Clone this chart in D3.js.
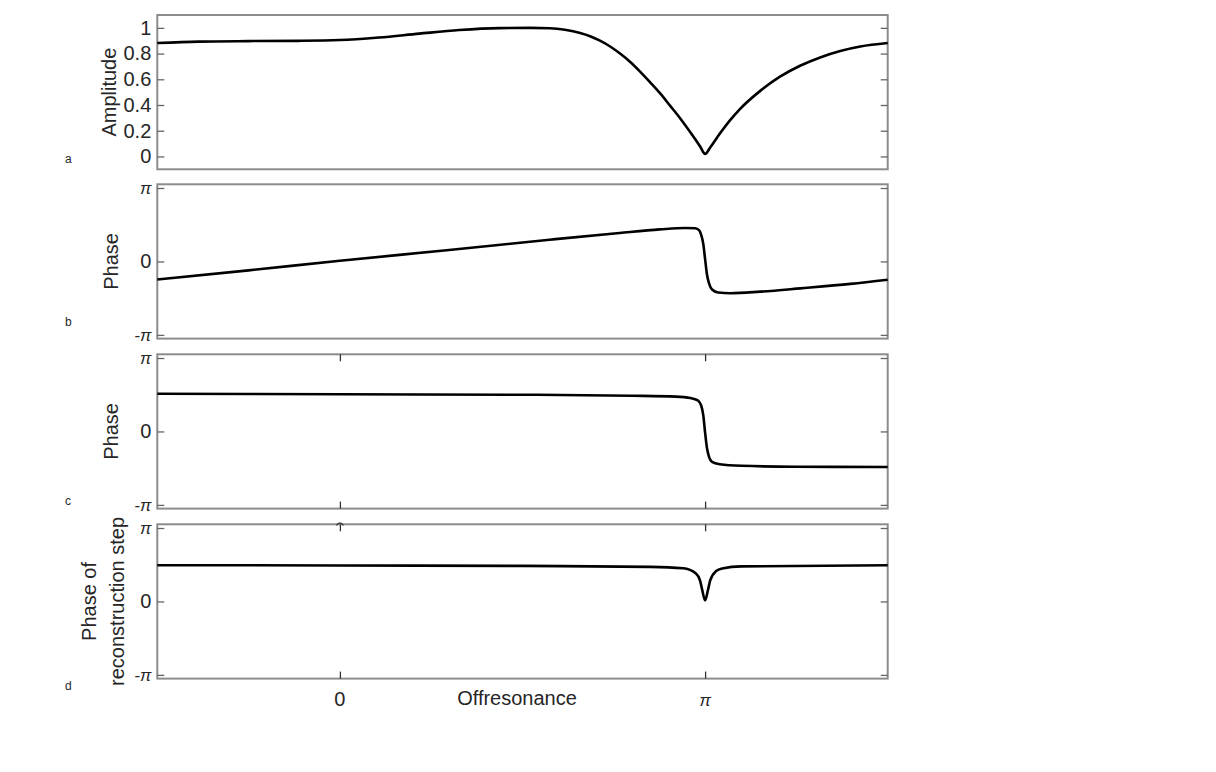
<!DOCTYPE html>
<html><head><meta charset="utf-8">
<script src="https://cdn.jsdelivr.net/npm/d3@7"></script>
<style>body{margin:0;background:#fff} text{font-family:"Liberation Sans",Arial,sans-serif;fill:#262626}</style>
</head><body><svg id="c" width="1216" height="772"></svg>
<script>
// Offresonance positions are given in multiples of pi
const offresA = [-0.5,-0.387,-0.25,-0.113,0,0.107,0.217,0.327,0.437,0.521,0.575,0.616,0.658,0.685,0.712,0.740,0.767,0.795,0.822,0.849,0.877,0.904,0.932,0.959,0.986,1.0,1.014,1.041,1.068,1.096,1.151,1.205,1.260,1.315,1.370,1.425,1.5];
const amplitude = [0.882,0.893,0.897,0.899,0.905,0.925,0.955,0.983,0.998,1.0,0.997,0.985,0.96,0.935,0.9,0.855,0.80,0.735,0.66,0.578,0.49,0.395,0.295,0.19,0.08,0.02,0.07,0.18,0.28,0.37,0.51,0.62,0.705,0.77,0.82,0.855,0.882];

const offresB = [-0.5,-0.25,0,0.299,0.574,0.766,0.876,0.945,0.973,0.984,0.989,0.995,1.0,1.005,1.011,1.019,1.036,1.069,1.151,1.261,1.398,1.5];
const phaseB = [-0.775,-0.38,0.03,0.49,0.93,1.22,1.37,1.43,1.42,1.33,1.15,0.75,0.1,-0.55,-0.95,-1.2,-1.33,-1.36,-1.29,-1.15,-0.96,-0.78];

const offresC = [-0.5,0,0.5,0.8,0.92,0.96,0.98,0.989,0.995,1.0,1.005,1.011,1.019,1.04,1.1,1.25,1.5];
const phaseC = [1.61,1.59,1.57,1.53,1.49,1.43,1.33,1.12,0.7,-0.05,-0.7,-1.1,-1.3,-1.4,-1.47,-1.51,-1.52];

const offresD = [-0.5,0,0.5,0.85,0.94,0.975,0.986,0.992,1.0,1.008,1.014,1.03,1.047,1.1,1.5];
const phaseD = [1.55,1.54,1.52,1.48,1.42,1.2,0.9,0.5,0.05,0.5,0.9,1.3,1.41,1.5,1.55];

const ampTicks = [0,0.2,0.4,0.6,0.8,1];
const ampTickLabels = ["0","0.2","0.4","0.6","0.8","1"];
const phaseTicks = [-Math.PI,0,Math.PI];
const phaseTickLabels = ["-π","0","π"];
const xTicks = [0,Math.PI];
const xTickLabels = ["0","π"];
const panelLetters = ["a","b","c","d"];
const yLabels = [["Amplitude"],["Phase"],["Phase"],["Phase of","reconstruction step"]];
const xLabel = "Offresonance";

const svg = d3.select("#c");
const L = 157.3, R = 887.7;
const tops = [15,184.3,354.3,524.3];
const H = 154.3;
const x = d3.scaleLinear().domain([-Math.PI/2, 3*Math.PI/2]).range([L,R]);
const serif = "'Liberation Serif','DejaVu Serif',serif";

const panels = [
  {xs:offresA, ys:amplitude, dom:[-0.1,1.1], ticks:ampTicks, labels:ampTickLabels, xt:false, letterY:159, labX:116},
  {xs:offresB, ys:phaseB, dom:[-3.3,3.3], ticks:phaseTicks, labels:phaseTickLabels, xt:false, letterY:322, labX:118},
  {xs:offresC, ys:phaseC, dom:[-3.3,3.3], ticks:phaseTicks, labels:phaseTickLabels, xt:true, letterY:501, labX:118},
  {xs:offresD, ys:phaseD, dom:[-3.3,3.3], ticks:phaseTicks, labels:phaseTickLabels, xt:true, letterY:686, labX:96}
];

panels.forEach((p,i)=>{
  const top = tops[i], bot = top+H;
  const y = d3.scaleLinear().domain(p.dom).range([bot,top]);
  const g = svg.append("g");
  g.append("rect").attr("x",L).attr("y",top).attr("width",R-L).attr("height",H)
    .attr("fill","none").attr("stroke","#8c8c8c").attr("stroke-width",2);
  const ax = d3.axisLeft(y).tickValues(p.ticks).tickSizeInner(-7).tickSizeOuter(0).tickPadding(6)
    .tickFormat((d,k)=>p.labels[k]);
  const ga = g.append("g").attr("transform",`translate(${L},0)`).call(ax);
  ga.select(".domain").remove();
  ga.selectAll(".tick line").attr("stroke","#666").attr("stroke-width",1.3);
  ga.selectAll(".tick text").attr("fill","#262626")
    .attr("font-family",d=>Math.abs(d)>3?serif:null)
    .attr("font-style",d=>Math.abs(d)>3?"italic":null)
    .attr("font-size",d=>Math.abs(d)>3?17:20);
  const ar = d3.axisRight(y).tickValues(p.ticks).tickSizeInner(-7).tickSizeOuter(0).tickFormat("");
  const gr = g.append("g").attr("transform",`translate(${R},0)`).call(ar);
  gr.select(".domain").remove();
  gr.selectAll(".tick line").attr("stroke","#666").attr("stroke-width",1.3);
  if(p.xt){
    const xb = d3.axisBottom(x).tickValues(xTicks).tickSizeInner(-7).tickSizeOuter(0).tickFormat("");
    const gb = g.append("g").attr("transform",`translate(0,${bot})`).call(xb);
    gb.select(".domain").remove();
    gb.selectAll(".tick line").attr("stroke","#333").attr("stroke-width",1.3);
    const xtp = d3.axisTop(x).tickValues(xTicks).tickSizeInner(-7).tickSizeOuter(0).tickFormat("");
    const gt = g.append("g").attr("transform",`translate(0,${top})`).call(xtp);
    gt.select(".domain").remove();
    gt.selectAll(".tick line").attr("stroke","#333").attr("stroke-width",1.3);
  }
  const line = d3.line().x(d=>x(d[0]*Math.PI)).y(d=>y(d[1])).curve(d3.curveMonotoneX);
  g.append("path").datum(p.xs.map((v,k)=>[v,p.ys[k]])).attr("d",line)
    .attr("fill","none").attr("stroke","#000").attr("stroke-width",2.6).attr("stroke-linejoin","round");
  const lines = yLabels[i];
  const cy = (top+bot)/2;
  const t = g.append("text").attr("transform",`translate(${p.labX},${cy}) rotate(-90)`)
    .attr("text-anchor","middle").attr("font-size",20);
  lines.forEach((s,k)=>t.append("tspan").attr("x",0).attr("dy",k===0?0:"1.4em").text(s));
  g.append("text").attr("x",65).attr("y",p.letterY).attr("dy","0.35em").attr("font-size",12).text(panelLetters[i]);
});

// small caret mark above the 0 tick of the last panel
const cx0 = x(0), ct = tops[3];
svg.append("path").attr("d",`M${cx0-3.5},${ct+1} Q${cx0},${ct-4} ${cx0+3.5},${ct+1}`)
  .attr("fill","none").attr("stroke","#333").attr("stroke-width",1.2);

const lastBot = tops[3]+H;
xTicks.forEach((v,k)=>{
  const isPi = xTickLabels[k]==="π";
  svg.append("text").attr("x",x(v)).attr("y",lastBot+27).attr("text-anchor","middle")
    .attr("font-size",isPi?17:20)
    .attr("font-family",isPi?serif:null)
    .attr("font-style",isPi?"italic":null)
    .text(xTickLabels[k]);
});
svg.append("text").attr("x",517).attr("y",lastBot+26).attr("text-anchor","middle").attr("font-size",20).text(xLabel);
</script></body></html>
